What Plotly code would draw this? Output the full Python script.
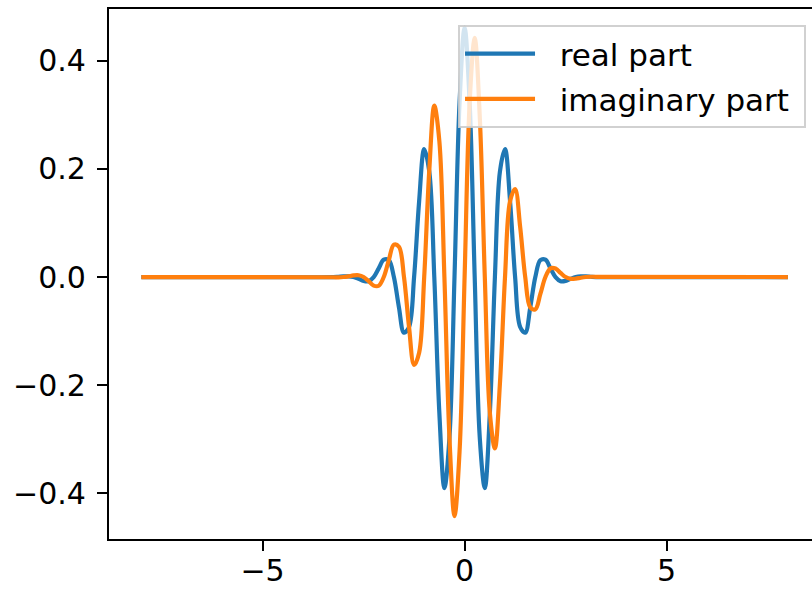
import plotly.graph_objects as go

x_values = [-8.0,
            -3.25, -3.125, -3.0, -2.875, -2.75, -2.625, -2.5, -2.375, -2.25, -2.125,
            -2.0, -1.875, -1.75, -1.625, -1.5, -1.375, -1.25, -1.125,
            -1.0, -0.875, -0.75, -0.625, -0.5, -0.375, -0.25, -0.125,
            0.0,
            0.125, 0.25, 0.375, 0.5, 0.625, 0.75, 0.875, 1.0,
            1.125, 1.25, 1.375, 1.5, 1.625, 1.75, 1.875, 2.0,
            2.125, 2.25, 2.375, 2.5, 2.625, 2.75, 2.875, 3.0, 3.125, 3.25,
            8.0]

real_part = [0.0,
             0.0, 0.0005, 0.0011, 0.0013, 0.0, -0.0033, -0.0071, -0.0076, 0.0, 0.0161,
             0.0320, 0.0313, 0.0, -0.0560, -0.1028, -0.0923, 0.0, 0.1401,
             0.2365, 0.1955, 0.0, -0.2511, -0.3900, -0.2966, 0.0, 0.3224,
             0.4607,
             0.3224, 0.0, -0.2966, -0.3900, -0.2511, 0.0, 0.1955, 0.2365,
             0.1401, 0.0, -0.0923, -0.1028, -0.0560, 0.0, 0.0313, 0.0320,
             0.0161, 0.0, -0.0076, -0.0071, -0.0033, 0.0, 0.0013, 0.0011, 0.0005, 0.0,
             0.0]

imag_part = [0.0,
             -0.0004, -0.0005, 0.0, 0.0013, 0.0030, 0.0033, 0.0, -0.0076, -0.0158, -0.0161,
             0.0, 0.0313, 0.0598, 0.0560, 0.0, -0.0923, -0.1626, -0.1401,
             0.0, 0.1955, 0.3166, 0.2511, 0.0, -0.2966, -0.4419, -0.3224,
             0.0,
             0.3224, 0.4419, 0.2966, 0.0, -0.2511, -0.3166, -0.1955, 0.0,
             0.1401, 0.1626, 0.0923, 0.0, -0.0560, -0.0598, -0.0313, 0.0,
             0.0161, 0.0158, 0.0076, 0.0, -0.0033, -0.0030, -0.0013, 0.0, 0.0005, 0.0004,
             0.0]

series_names = ["real part", "imaginary part"]
x_ticks = [-5, 0, 5]
x_tick_labels = ["\u22125", "0", "5"]
y_ticks = [-0.4, -0.2, 0.0, 0.2, 0.4]
y_tick_labels = ["\u22120.4", "\u22120.2", "0.0", "0.2", "0.4"]

tick_font = dict(family="DejaVu Sans", size=30, color="black")
legend_font = dict(family="DejaVu Sans", size=31, color="black")
pad = "\u00a0\u00a0"

fig = go.Figure()
fig.add_trace(go.Scatter(x=x_values, y=real_part, mode="lines",
                         name=pad + series_names[0] + "\u00a0",
                         line=dict(color="#1f77b4", width=4.2, shape="spline"),
                         legendgroup="a"))
fig.add_trace(go.Scatter(x=x_values, y=imag_part, mode="lines",
                         name=pad + series_names[1] + "\u00a0",
                         line=dict(color="#ff7f0e", width=4.2, shape="spline"),
                         legendgroup="b"))

fig.update_layout(
    width=812, height=589,
    margin=dict(l=109, r=0, t=9, b=50),
    paper_bgcolor="white", plot_bgcolor="white",
    font=tick_font,
    showlegend=True,
    legend=dict(x=0.9915, y=0.97, xanchor="right", yanchor="top",
                bgcolor="rgba(255,255,255,0.8)", bordercolor="rgba(204,204,204,0.9)",
                borderwidth=2, font=legend_font, tracegroupgap=2, itemwidth=70),
    xaxis=dict(range=[-8.8, 8.597], tickvals=x_ticks, ticktext=x_tick_labels,
               showgrid=False, zeroline=False, showline=True, linecolor="black",
               linewidth=2.2, mirror=True, ticks="outside", ticklen=10, tickwidth=2.2,
               tickcolor="black", ticklabelstandoff=-6, automargin=False,
               tickfont=tick_font),
    yaxis=dict(range=[-0.4841, 0.4953], tickvals=y_ticks, ticktext=y_tick_labels,
               showgrid=False, zeroline=False, showline=True, linecolor="black",
               linewidth=2.2, mirror=False, ticks="outside", ticklen=10, tickwidth=2.2,
               tickcolor="black", ticklabelstandoff=5, automargin=False,
               tickfont=tick_font),
)

fig.write_html("out.html")
